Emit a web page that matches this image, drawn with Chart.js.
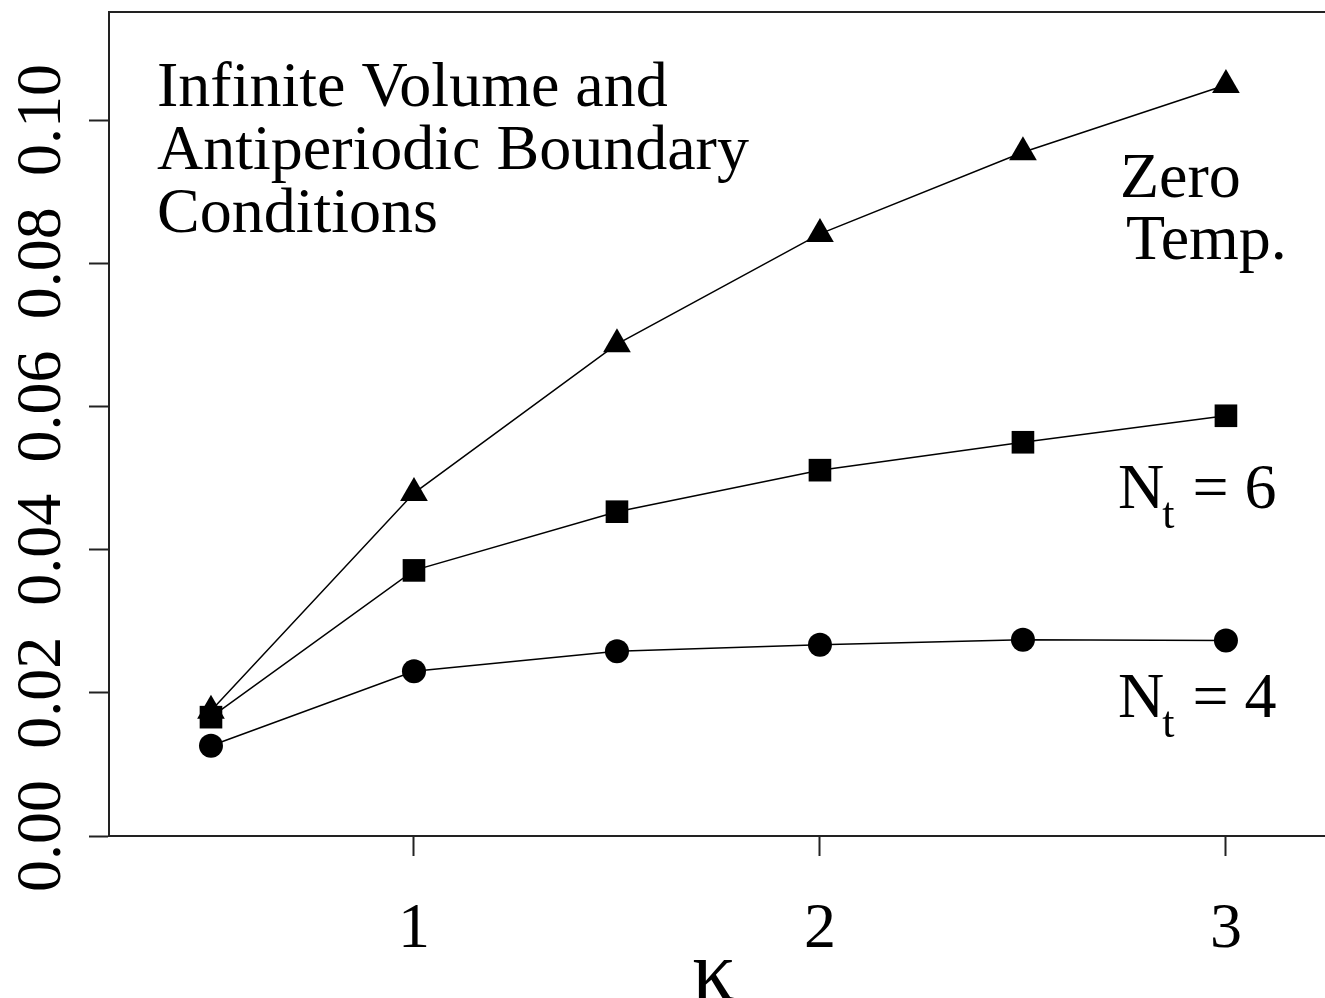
<!DOCTYPE html>
<html>
<head>
<meta charset="utf-8">
<script src="https://cdn.jsdelivr.net/npm/chart.js@4.4.1/dist/chart.umd.min.js"></script>
<style>
  html, body { margin: 0; padding: 0; background: #fff; overflow: hidden; }
  #wrap { width: 1325px; height: 998px; }
</style>
</head>
<body>
<div id="wrap"><canvas id="chart" width="1325" height="998"></canvas></div>
<script>
// kappa values
const kappa = [0.5, 1.0, 1.5, 2.0, 2.5, 3.0];
// zero temperature (triangles)
const zeroTemp = [0.0175, 0.0479, 0.0687, 0.0841, 0.0955, 0.1049];
// N_t = 6 (squares)
const nt6 = [0.0166, 0.0371, 0.0453, 0.0511, 0.0550, 0.0587];
// N_t = 4 (circles)
const nt4 = [0.0126, 0.0230, 0.0258, 0.0267, 0.0274, 0.0273];

const xTicks = [1, 2, 3];
const xTickLabels = ['1', '2', '3'];
const yTicks = [0, 0.02, 0.04, 0.06, 0.08, 0.10];
const yTickLabels = ['0.00', '0.02', '0.04', '0.06', '0.08', '0.10'];

const FONT = '"Liberation Serif", "Times New Roman", serif';
const AXIS_COLOR = '#222';

function toPoints(xs, ys) {
    return xs.map((x, i) => ({ x: x, y: ys[i] }));
}

function series(label, values, style, radius) {
    return {
        label: label,
        data: toPoints(kappa, values),
        borderColor: '#000',
        backgroundColor: '#000',
        borderWidth: 1.5,
        pointStyle: style,
        pointRadius: radius,
        pointHoverRadius: radius,
        pointBorderWidth: 0,
        tension: 0
    };
}

/**
 * Draws the top frame line, the rotated y tick labels, x tick labels,
 * the axis title and the text annotations
 */
const decorations = {
    id: 'decorations',
    afterDraw(chart) {
        const ctx = chart.ctx;
        const area = chart.chartArea;
        const xs = chart.scales.x;
        const ys = chart.scales.y;

        ctx.save();
        // top frame line
        ctx.strokeStyle = AXIS_COLOR;
        ctx.lineWidth = 2;
        ctx.beginPath();
        ctx.moveTo(area.left, area.top);
        ctx.lineTo(chart.width, area.top);
        ctx.stroke();

        ctx.fillStyle = '#000';
        ctx.font = '64px ' + FONT;

        // y tick labels, reading bottom to top
        yTicks.forEach((v, i) => {
            const py = ys.getPixelForValue(v);
            ctx.save();
            ctx.translate(60, py);
            ctx.rotate(-Math.PI / 2);
            ctx.textAlign = 'center';
            ctx.textBaseline = 'alphabetic';
            ctx.fillText(yTickLabels[i], 0, 0);
            ctx.restore();
        });

        // x tick labels
        ctx.textAlign = 'center';
        ctx.textBaseline = 'alphabetic';
        xTicks.forEach((v, i) => {
            ctx.fillText(xTickLabels[i], xs.getPixelForValue(v), 947);
        });

        // axis title
        ctx.font = '86px ' + FONT;
        ctx.fillText('\u03BA', 714, 1000);

        // annotations
        ctx.font = '64px ' + FONT;
        ctx.textAlign = 'left';
        ctx.fillText('Infinite Volume and', 157, 106);
        ctx.fillText('Antiperiodic Boundary', 157, 169);
        ctx.fillText('Conditions', 157, 232);

        ctx.fillText('Zero', 1120, 197);
        ctx.fillText('Temp.', 1126, 259);

        drawNt(ctx, '6', 1118, 508);
        drawNt(ctx, '4', 1118, 717);
        ctx.restore();
    }
};

function drawNt(ctx, num, x, y) {
    ctx.font = '64px ' + FONT;
    ctx.fillText('N', x, y);
    let w = ctx.measureText('N').width;
    ctx.font = '44px ' + FONT;
    ctx.fillText('t', x + w - 2, y + 20);
    w += ctx.measureText('t').width;
    ctx.font = '64px ' + FONT;
    ctx.fillText(' = ' + num, x + w, y);
}

const chart = new Chart(document.getElementById('chart'), {
    type: 'line',
    data: {
        datasets: [
            series('Zero Temp.', zeroTemp, 'triangle', 16),
            series('N_t = 6', nt6, 'rect', 16),
            series('N_t = 4', nt4, 'circle', 12)
        ]
    },
    options: {
        responsive: false,
        animation: false,
        events: [],
        layout: { autoPadding: false, padding: { top: 12, right: 0, left: 0, bottom: 0 } },
        plugins: {
            legend: { display: false },
            tooltip: { enabled: false }
        },
        scales: {
            x: {
                type: 'linear',
                min: 0.2488,
                max: 3.244,
                afterBuildTicks: (scale) => {
                    scale.ticks = xTicks.map(v => ({ value: v }));
                },
                afterFit: (scale) => { scale.height = 162; },
                border: { display: true, color: AXIS_COLOR, width: 2 },
                grid: {
                    drawOnChartArea: false,
                    drawTicks: true,
                    tickLength: 20,
                    tickColor: AXIS_COLOR,
                    tickWidth: 2
                },
                ticks: { display: false }
            },
            y: {
                type: 'linear',
                min: 0,
                max: 0.1151,
                afterBuildTicks: (scale) => {
                    scale.ticks = yTicks.map(v => ({ value: v }));
                },
                afterFit: (scale) => { scale.width = 109; },
                border: { display: true, color: AXIS_COLOR, width: 2 },
                grid: {
                    drawOnChartArea: false,
                    drawTicks: true,
                    tickLength: 20,
                    tickColor: AXIS_COLOR,
                    tickWidth: 2
                },
                ticks: { display: false }
            }
        }
    },
    plugins: [decorations]
});
</script>
</body>
</html>
